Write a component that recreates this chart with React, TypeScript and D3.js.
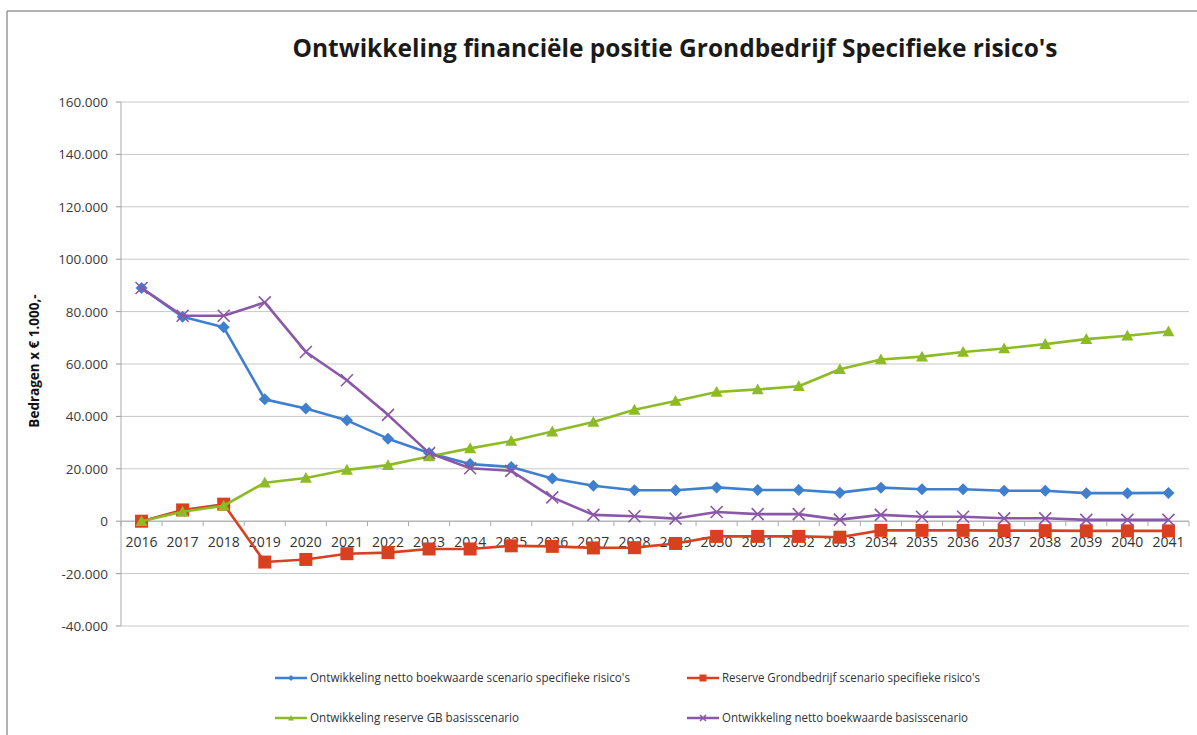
import React from "react";
import * as d3 from "d3";

const years = ["2016","2017","2018","2019","2020","2021","2022","2023","2024","2025","2026","2027","2028","2029","2030","2031","2032","2033","2034","2035","2036","2037","2038","2039","2040","2041"];
const blueNetto = [89000,78000,74000,46500,43000,38500,31500,26000,21800,20700,16300,13500,11800,11800,12900,11900,11900,10900,12800,12200,12200,11600,11600,10700,10700,10800];
const redReserve = [0,4300,6500,-15600,-14600,-12400,-12000,-10600,-10600,-9400,-9600,-10200,-10100,-8500,-5800,-5800,-5800,-6100,-3500,-3500,-3500,-3600,-3600,-3700,-3700,-3700];
const greenReserveBasis = [0,3600,5900,14700,16500,19600,21400,24700,27800,30600,34200,37900,42500,45900,49300,50300,51500,58000,61700,62800,64600,65900,67600,69500,70800,72400];
const purpleNettoBasis = [89000,78400,78400,83500,64600,53800,40600,26000,20200,19200,9100,2400,1900,1000,3500,2700,2700,600,2400,1700,1700,1100,1100,500,500,500];
const yTicks = [-40000,-20000,0,20000,40000,60000,80000,100000,120000,140000,160000];

const title = "Ontwikkeling financiële positie Grondbedrijf Specifieke risico's";
const yTitle = "Bedragen x € 1.000,-";

const series = [
  { name: "Ontwikkeling netto boekwaarde scenario specifieke risico's", values: blueNetto, color: "#3f7fcf", marker: "diamond" },
  { name: "Reserve Grondbedrijf scenario specifieke risico's", values: redReserve, color: "#d8401f", marker: "square" },
  { name: "Ontwikkeling reserve GB  basisscenario", values: greenReserveBasis, color: "#8dbb25", marker: "triangle" },
  { name: "Ontwikkeling netto boekwaarde basisscenario", values: purpleNettoBasis, color: "#8b57a8", marker: "x" },
];

const fmt = (v: number) => {
  if (v === 0) return "0";
  const s = d3.format(",")(v).replace(/,/g, ".");
  return s.replace("−", "-");
};

function Marker({ type, x, y, color, size }: { type: string; x: number; y: number; color: string; size: number }) {
  const s = size;
  if (type === "diamond") {
    return <path d={`M${x},${y - s}L${x + s},${y}L${x},${y + s}L${x - s},${y}Z`} fill={color} />;
  }
  if (type === "square") {
    return <rect x={x - s} y={y - s} width={2 * s} height={2 * s} fill={color} />;
  }
  if (type === "triangle") {
    return <path d={`M${x},${y - s}L${x + s},${y + s * 0.8}L${x - s},${y + s * 0.8}Z`} fill={color} />;
  }
  return (
    <path d={`M${x - s},${y - s}L${x + s},${y + s}M${x - s},${y + s}L${x + s},${y - s}`} stroke={color} strokeWidth={1.6} fill="none" />
  );
}

export default function App() {
  const W = 1197, H = 735;
  const left = 121, right = 1189, top = 102, bottom = 626;
  const x = d3.scaleBand<string>().domain(years).range([left, right]);
  const y = d3.scaleLinear().domain([-40000, 160000]).range([bottom, top]);
  const cx = (yr: string) => (x(yr) as number) + x.bandwidth() / 2;
  const line = d3.line<number>().x((_, i) => cx(years[i])).y((d) => y(d));
  const font = "'Open Sans', sans-serif";
  const y0 = y(0);

  return (
    <svg width={W} height={H} style={{ position: "absolute", left: 0, top: 0, background: "#fff" }} fontFamily={font}>
      <rect x={0} y={0} width={W} height={H} fill="#fff" />
      <line x1={7} y1={11} x2={W} y2={11} stroke="#999" strokeWidth={1.5} />
      <line x1={7} y1={11} x2={7} y2={H} stroke="#999" strokeWidth={1.5} />
      <text x={675} y={57} textAnchor="middle" fontSize={25} fontWeight="bold" fill="#1a1a1a" textLength={765} lengthAdjust="spacingAndGlyphs">{title}</text>

      {yTicks.map((t) => (
        <g key={t}>
          <line x1={left} x2={right} y1={y(t)} y2={y(t)} stroke="#c8c8c8" strokeWidth={1} />
          <line x1={left - 5} x2={left} y1={y(t)} y2={y(t)} stroke="#999" />
          <text x={108} y={y(t) + 5} textAnchor="end" fontSize={13.5} fill="#3a3a3a">{fmt(t)}</text>
        </g>
      ))}
      <line x1={left} x2={left} y1={top} y2={bottom} stroke="#aaa" />
      <line x1={left} x2={right} y1={y0} y2={y0} stroke="#aaa" />
      {years.map((yr) => (
        <line key={"t" + yr} x1={x(yr) as number} x2={x(yr) as number} y1={y0} y2={y0 + 5} stroke="#aaa" />
      ))}
      <line x1={right} x2={right} y1={y0} y2={y0 + 5} stroke="#aaa" />
      {years.map((yr) => (
        <text key={yr} x={cx(yr)} y={y0 + 26} textAnchor="middle" fontSize={14} fill="#333">{yr}</text>
      ))}
      <text transform={`translate(39,${361}) rotate(-90)`} textAnchor="middle" fontSize={13.5} fontWeight="bold" fill="#111">{yTitle}</text>

      {series.map((s) => (
        <g key={s.name}>
          <path d={line(s.values) as string} fill="none" stroke={s.color} strokeWidth={2.6} strokeLinejoin="round" />
          {s.values.map((v, i) => (
            <Marker key={i} type={s.marker} x={cx(years[i])} y={y(v)} color={s.color} size={s.marker === "square" ? 6.5 : 6} />
          ))}
        </g>
      ))}

      {series.map((s, i) => {
        const lx = i % 2 === 0 ? 275 : 687;
        const ly = i < 2 ? 678 : 718;
        return (
          <g key={"lg" + i}>
            <line x1={lx} x2={lx + 32} y1={ly} y2={ly} stroke={s.color} strokeWidth={2.5} />
            <Marker type={s.marker} x={lx + 16} y={ly} color={s.color} size={s.marker === "square" ? 3.5 : 3} />
            <text x={lx + 35} y={ly + 4} fontSize={12} fill="#333" textLength={i === 0 ? 320 : i === 1 ? 258 : i === 2 ? 209 : 246} lengthAdjust="spacingAndGlyphs">{s.name}</text>
          </g>
        );
      })}
    </svg>
  );
}
